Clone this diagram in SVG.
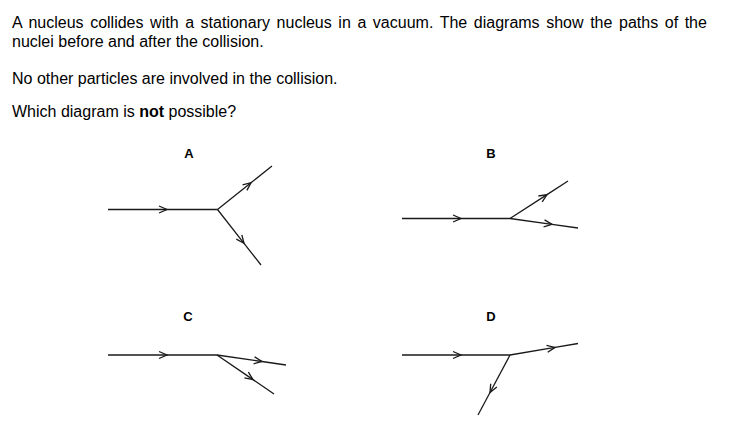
<svg xmlns="http://www.w3.org/2000/svg" width="743" height="436" viewBox="0 0 743 436">
<style>
.t{font-family:"Liberation Sans",Arial,sans-serif;font-size:16px;fill:#000}
.lbl{font-family:"Liberation Sans",Arial,sans-serif;font-size:13px;font-weight:bold;fill:#000;text-anchor:middle}
.p{fill:none;stroke:#1a1a1a;stroke-width:1.3;marker-mid:url(#arr)}
</style>
<defs>
<marker id="arr" markerUnits="userSpaceOnUse" markerWidth="12" markerHeight="10" viewBox="-10 -5 12 10" refX="0" refY="0" orient="auto">
<path d="M-8,-3.5 L0,0 L-8,3.5" fill="none" stroke="#1a1a1a" stroke-width="1.3"/>
</marker>
</defs>
<rect width="743" height="436" fill="#fff"/>
<g id="question">
<text class="t" x="12" y="28" word-spacing="2.15">A nucleus collides with a stationary nucleus in a vacuum. The diagrams show the paths of the</text>
<text class="t" x="12" y="47">nuclei before and after the collision.</text>
<text class="t" x="12" y="84">No other particles are involved in the collision.</text>
<text class="t" x="12" y="117">Which diagram is <tspan font-weight="bold">not</tspan> possible?</text>
</g>
<g id="labels">
<text class="lbl" x="189" y="158">A</text>
<text class="lbl" x="491" y="158">B</text>
<text class="lbl" x="188" y="321">C</text>
<text class="lbl" x="491" y="321">D</text>
</g>
<g id="connectors">
<g id="diagram-A">
<path class="p" d="M108,209.5 L167,209.5 L217.5,209.5"/>
<path class="p" d="M217.5,209.5 L251,182.7 L272,166"/>
<path class="p" d="M217.5,209.5 L244,243.3 L261,265"/>
</g>
<g id="diagram-B">
<path class="p" d="M402,218.5 L461,218.5 L510,218.5"/>
<path class="p" d="M510,218.5 L547,194.6 L568,181"/>
<path class="p" d="M510,218.5 L552,224.4 L578,228"/>
</g>
<g id="diagram-C">
<path class="p" d="M108,355 L167,355 L217,355"/>
<path class="p" d="M217,355 L262,361.5 L286,365"/>
<path class="p" d="M217,355 L253,379.6 L274,394"/>
</g>
<g id="diagram-D">
<path class="p" d="M402,355 L461,355 L510,355"/>
<path class="p" d="M510,355 L555,347.4 L578,343.5"/>
<path class="p" d="M510,355 L490,392.5 L478,415"/>
</g>
</g>
</svg>
